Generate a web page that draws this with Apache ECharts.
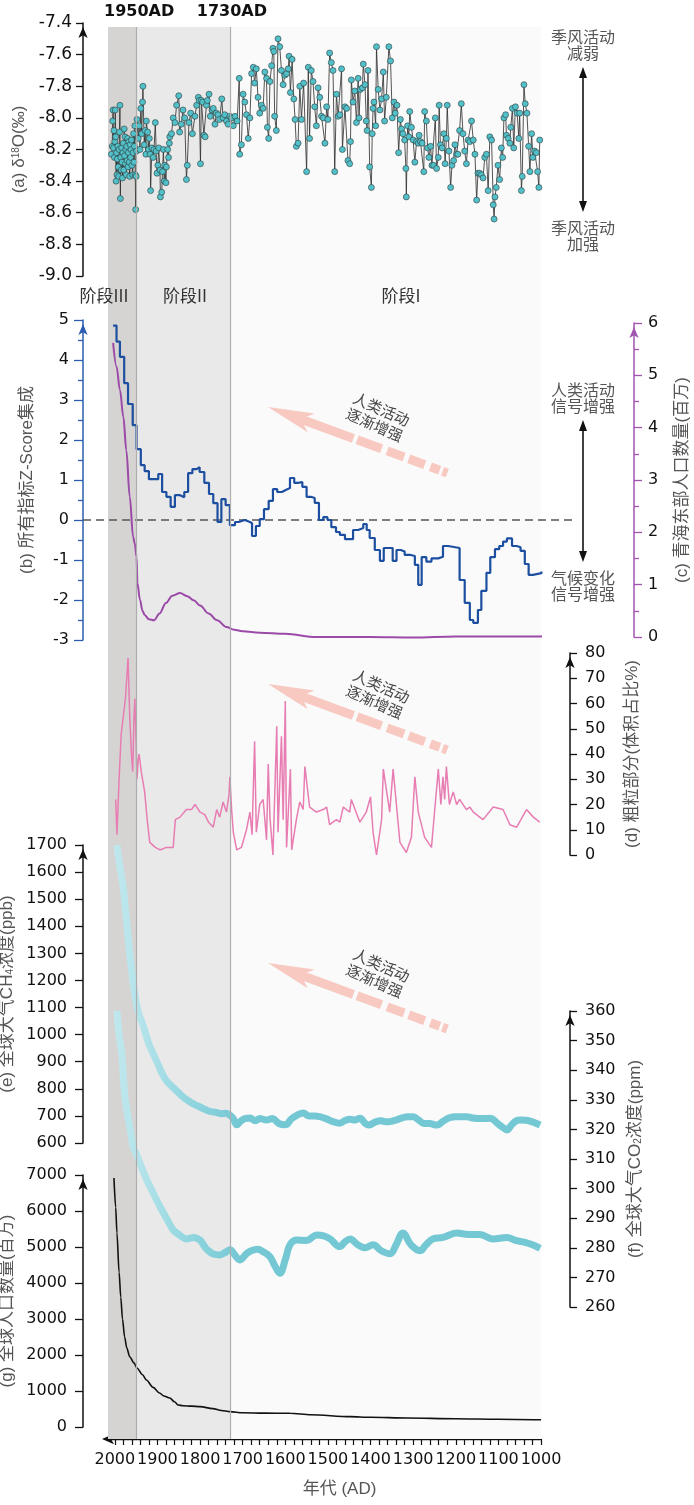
<!DOCTYPE html>
<html><head><meta charset="utf-8">
<script src="https://cdn.jsdelivr.net/npm/echarts@6/dist/echarts.min.js"></script>
<style>html,body{margin:0;padding:0;background:#fff}#c{width:694px;height:1505px}</style>
</head><body><div id="c"></div>
<script>
// ---------------- DATA ----------------
const stageBounds = [2016, 1950, 1730, 1000];
const stageNames = ['阶段III', '阶段II', '阶段I'];
const boundaryLabels = ['1950AD', '1730AD'];
const xLabelYears = [2000, 1900, 1800, 1700, 1600, 1500, 1400, 1300, 1200, 1100, 1000];

// (a) δ18O (‰)
const d18oStage3 = [[2008,-8.23],[2006,-8.18],[2005,-8.02],[2004,-7.95],[2003,-8.19],[2002,-8.08],[2001,-8.25],[2000,-8.15],[1999,-7.95],[1998,-8.12],[1997,-8.40],[1996,-8.22],[1995,-8.36],[1994,-8.26],[1993,-8.18],[1992,-8.31],[1991,-8.37],[1990,-8.20],[1989,-8.09],[1988,-7.92],[1987,-8.51],[1986,-8.25],[1985,-8.33],[1984,-8.19],[1983,-8.28],[1982,-8.38],[1981,-8.22],[1980,-8.16],[1979,-8.33],[1978,-8.07],[1977,-8.24],[1976,-8.12],[1975,-8.29],[1974,-8.20],[1973,-8.36],[1972,-8.18],[1971,-8.27],[1970,-8.13],[1969,-8.31],[1968,-8.22],[1967,-8.15],[1966,-8.28],[1965,-8.37],[1964,-8.17],[1963,-8.25],[1962,-8.20],[1961,-8.14],[1960,-8.30],[1958,-8.36],[1957,-8.22],[1956,-8.10],[1955,-8.28],[1954,-8.18],[1953,-8.05],[1952,-8.36],[1951,-8.58],[1950,-8.37],[1949,-8.21],[1948,-8.01]];
const d18oStage2 = [[1945,-8.13],[1943,-8.05],[1941,-8.20],[1939,-7.94],[1937,-8.10],[1935,-7.90],[1934,-7.80],[1931,-8.17],[1929,-8.08],[1927,-8.23],[1926,-8.02],[1923,-8.09],[1921,-8.20],[1919,-8.13],[1917,-8.23],[1916,-8.46],[1913,-8.19],[1910,-8.25],[1908,-8.20],[1905,-8.03],[1903,-8.21],[1901,-8.35],[1899,-8.30],[1897,-8.19],[1894,-8.33],[1893,-8.50],[1890,-8.47],[1888,-8.34],[1886,-8.20],[1884,-8.40],[1883,-8.30],[1880,-8.41],[1879,-8.31],[1876,-8.20],[1874,-8.25],[1872,-8.16],[1871,-8.12],[1867,-8.10],[1863,-8.00],[1859,-8.03],[1855,-7.92],[1850,-7.86],[1848,-8.09],[1844,-8.04],[1840,-7.95],[1836,-8.00],[1832,-8.39],[1830,-8.30],[1826,-8.03],[1822,-7.97],[1818,-8.10],[1812,-7.99],[1808,-7.92],[1804,-7.87],[1802,-7.89],[1799,-8.29],[1797,-7.89],[1794,-7.90],[1791,-8.11],[1788,-8.12],[1785,-7.92],[1783,-7.89],[1779,-7.85],[1776,-7.99],[1772,-7.95],[1769,-7.94],[1765,-8.04],[1762,-7.97],[1758,-7.98],[1754,-8.01],[1749,-7.88],[1746,-8.00],[1742,-7.98],[1738,-8.02],[1734,-8.04],[1730,-7.99],[1726,-8.00]];
const d18oStage1 = [[1722,-8.05],[1718,-7.99],[1713,-8.02],[1708,-7.75],[1707,-8.23],[1703,-8.17],[1699,-7.85],[1695,-7.90],[1691,-7.98],[1687,-8.13],[1683,-8.00],[1679,-7.72],[1675,-7.68],[1672,-7.78],[1668,-7.69],[1664,-7.87],[1660,-7.97],[1656,-7.92],[1652,-7.94],[1648,-7.71],[1644,-7.75],[1642,-8.06],[1639,-8.13],[1636,-7.77],[1632,-7.67],[1629,-7.56],[1627,-7.58],[1625,-7.99],[1621,-8.08],[1617,-7.50],[1613,-7.55],[1609,-7.70],[1605,-7.79],[1601,-7.73],[1597,-7.72],[1593,-7.69],[1591,-7.61],[1588,-7.84],[1584,-7.63],[1580,-7.88],[1577,-8.01],[1574,-8.18],[1570,-8.16],[1566,-7.80],[1562,-8.01],[1557,-7.78],[1550,-8.34],[1546,-7.68],[1543,-8.13],[1539,-7.70],[1535,-7.77],[1531,-7.93],[1527,-8.05],[1523,-7.81],[1519,-7.87],[1515,-7.99],[1511,-8.00],[1507,-8.16],[1503,-7.93],[1500,-8.01],[1496,-7.59],[1492,-7.65],[1488,-7.70],[1484,-8.34],[1480,-7.85],[1476,-7.99],
[1472,-7.98],[1468,-7.69],[1466,-8.20],[1460,-7.93],[1456,-7.94],[1453,-8.27],[1449,-8.29],[1447,-8.15],[1445,-7.76],[1441,-7.90],[1437,-7.83],[1433,-8.03],[1429,-7.75],[1427,-8.00],[1424,-7.82],[1419,-7.81],[1417,-7.66],[1413,-7.79],[1410,-8.02],[1408,-8.08],[1406,-7.70],[1402,-8.31],[1398,-8.44],[1396,-8.10],[1394,-7.94],[1392,-7.90],[1388,-8.05],[1386,-7.55],[1382,-7.82],[1378,-7.95],[1374,-7.88],[1370,-7.71],[1367,-8.02],[1363,-7.87],[1357,-7.55],[1353,-7.64],[1349,-8.00],[1345,-7.90],[1342,-7.97],[1338,-7.92],[1334,-8.22],[1330,-8.01],[1327,-8.07],[1324,-8.10],[1320,-8.14],[1317,-8.32],[1316,-8.50],[1313,-8.05],[1310,-8.12],[1308,-7.96],[1304,-8.06],[1300,-8.14],[1296,-8.28],[1292,-8.15],[1288,-8.16],[1286,-8.11],[1283,-8.15],[1279,-8.16],[1275,-8.34],[1273,-7.96],[1269,-8.02],[1266,-8.19],[1263,-8.25],[1259,-8.18],[1256,-8.30],[1252,-8.30],[1248,-8.00],[1245,-8.32],[1241,-8.25],[1239,-7.92],[1236,-8.17],[1232,-8.19],[1228,-8.10],[1225,-8.29],[1222,-8.13],[1220,-7.92],[1216,-8.21],[1212,-8.44],[1209,-8.30],[1205,-8.27],[1202,-8.17],[1198,-8.23],[1195,-8.23],[1191,-8.08],[1187,-7.91],[1183,-8.10],[1179,-8.21],[1175,-8.29],[1171,-8.14],[1167,-8.15],[1163,-8.02],[1159,-8.14],[1155,-8.23],[1151,-8.52],[1148,-8.35],[1144,-8.35],[1140,-8.36],[1136,-8.38],[1132,-8.25],[1128,-8.23],[1124,-8.46],[1120,-8.12],[1116,-8.14],[1112,-8.55],[1110,-8.64],[1108,-8.50],[1105,-8.44],[1101,-8.30],[1097,-8.39],[1093,-8.19],[1090,-8.25],[1087,-8.00],[1083,-7.98],[1081,-8.11],[1077,-8.13],[1073,-8.16],[1071,-8.06],[1067,-7.94],[1064,-8.19],[1060,-7.93],[1056,-7.97],[1052,-8.13],[1050,-7.97],[1046,-8.46],[1044,-8.37],[1040,-7.79],[1037,-7.91],[1033,-7.97],[1029,-8.18],[1026,-8.34],[1022,-8.10],[1019,-8.25],[1015,-8.21],[1011,-8.22],[1008,-8.34],[1005,-8.44],[1003,-8.14]];

// (b) Z-score ensemble (step: value holds from this year to the next listed year)
const zscore = [[2004,4.86],[1996,4.46],[1988,4.08],[1978,3.42],[1969,2.90],[1958,2.37],[1949,1.77],[1939,1.37],[1930,1.22],[1920,1.02],[1898,1.15],[1889,0.70],[1879,0.58],[1869,0.33],[1859,0.62],[1847,0.57],[1837,0.70],[1828,1.17],[1818,1.27],[1808,1.32],[1801,1.20],[1790,0.93],[1779,0.65],[1769,0.42],[1759,-0.05],[1750,0.52],[1740,0.37],[1730,-0.13],[1718,-0.05],[1709,0.00],[1695,-0.05],[1683,-0.08],[1678,-0.40],[1669,-0.15],[1660,0.02],[1650,0.27],[1639,0.48],[1629,0.77],[1619,0.70],[1608,0.75],[1599,0.80],[1589,1.05],[1579,0.93],[1570,0.95],[1560,0.83],[1550,0.58],[1540,0.55],[1531,0.43],[1521,0.00],[1511,0.07],[1501,0.00],[1492,-0.18],[1481,-0.30],[1472,-0.37],[1460,-0.48],[1441,-0.25],[1429,-0.20],[1417,-0.10],[1409,-0.25],[1402,-0.45],[1390,-0.75],[1378,-1.02],[1369,-0.70],[1348,-1.02],[1339,-0.75],[1329,-0.79],[1320,-0.87],[1308,-0.90],[1296,-1.12],[1288,-1.62],[1280,-0.93],[1269,-1.04],[1257,-0.96],[1241,-0.92],[1230,-0.65],[1218,-0.70],[1191,-1.50],[1179,-2.07],[1167,-2.50],[1159,-2.57],[1148,-2.25],[1140,-1.77],[1128,-1.32],[1119,-0.93],[1108,-0.73],[1098,-0.65],[1089,-0.54],[1080,-0.46],[1068,-0.65],[1057,-0.68],[1048,-0.77],[1038,-1.10],[1029,-1.37],[1019,-1.33],[999,-1.29]];

// (c) population of eastern Qinghai (million)
const qhPop = [[2004,5.62],[1996,5.17],[1988,4.72],[1980,4.21],[1973,3.57],[1965,2.68],[1957,1.91],[1953,1.78],[1949,1.53],[1947,1.03],[1941,0.71],[1935,0.50],[1930,0.42],[1920,0.34],[1908,0.32],[1895,0.45],[1880,0.65],[1865,0.79],[1847,0.84],[1830,0.78],[1815,0.70],[1800,0.60],[1780,0.45],[1760,0.32],[1738,0.19],[1720,0.14],[1700,0.11],[1660,0.08],[1600,0.06],[1527,0.00],[1400,0.00],[1300,-0.01],[1200,0.01],[1100,0.01],[1000,0.01],[966,0.01]];

// (d) coarse fraction (vol %)
const coarse = [[1998,22],[1995,8],[1990,30],[1985,48],[1980,55],[1975,62],[1969,78],[1965,55],[1961,40],[1958,33],[1955,55],[1953,62],[1950,45],[1948,30],[1945,38],[1943,40],[1938,33],[1930,25],[1924,14],[1918,5],[1905,3],[1894,2],[1879,3],[1863,3],[1858,14],[1847,15],[1832,18],[1820,18],[1812,20],[1800,17],[1789,16],[1780,13],[1769,11],[1761,18],[1754,15],[1746,21],[1738,17],[1732,24],[1730,31],[1726,18],[1722,9],[1714,2],[1703,3],[1691,10],[1683,17],[1678,8],[1672,45],[1668,9],[1660,20],[1652,22],[1644,6],[1640,36],[1636,15],[1629,0],[1620,51],[1617,9],[1609,47],[1605,14],[1600,61],[1597,3],[1588,34],[1585,2],[1574,14],[1566,21],[1558,18],[1554,35],[1543,19],[1527,17],[1511,18],[1503,19],[1496,12],[1480,14],[1472,13],[1464,19],[1449,17],[1445,22],[1425,13],[1410,17],[1400,23],[1394,9],[1386,0],[1374,14],[1370,34],[1355,17],[1347,34],[1331,5],[1316,1],[1304,7],[1296,31],[1288,17],[1273,7],[1257,3],[1241,34],[1235,20],[1230,31],[1226,22],[1222,35],[1215,20],[1206,25],[1198,20],[1191,22],[1175,18],[1167,19],[1159,17],[1136,14],[1112,19],[1089,18],[1073,12],[1057,11],[1034,18],[1018,15],[1003,13]];

// (e) global CH4 (ppb)
const ch4 = [[1995,1700],[1990,1640],[1985,1590],[1980,1540],[1975,1460],[1970,1380],[1965,1300],[1960,1230],[1955,1170],[1950,1120],[1945,1085],[1940,1060],[1935,1040],[1930,1015],[1925,990],[1920,965],[1910,930],[1900,895],[1890,860],[1880,832],[1870,815],[1860,800],[1850,785],[1840,770],[1830,758],[1820,748],[1810,740],[1800,733],[1790,725],[1780,718],[1770,715],[1760,712],[1750,708],[1740,710],[1730,703],[1722,690],[1714,667],[1705,680],[1695,690],[1683,692],[1670,682],[1660,690],[1644,685],[1630,690],[1615,672],[1600,667],[1585,690],[1570,705],[1558,711],[1545,700],[1530,700],[1519,697],[1505,690],[1490,680],[1472,673],[1460,683],[1448,688],[1437,685],[1425,691],[1412,672],[1405,666],[1388,678],[1375,682],[1365,678],[1354,679],[1340,685],[1326,693],[1313,697],[1300,697],[1287,685],[1275,672],[1262,672],[1244,666],[1230,680],[1215,693],[1200,697],[1186,697],[1174,697],[1160,692],[1147,690],[1133,690],[1120,691],[1100,670],[1090,658],[1080,648],[1070,665],[1058,682],[1049,685],[1035,684],[1020,678],[1002,666]];

// (f) global CO2 (ppm)
const co2 = [[1995,360],[1990,352],[1984,346],[1977,332],[1970,325],[1965,321],[1957,314],[1950,312],[1942,309],[1934,306],[1922,302],[1910,298.5],[1898,295],[1887,292],[1875,289],[1863,286],[1848,284.3],[1832,283],[1815,283.5],[1800,282.6],[1792,281],[1785,279.6],[1769,277.9],[1754,277.6],[1740,278.5],[1730,279.3],[1718,277.5],[1707,275.9],[1691,278],[1680,279],[1665,279.5],[1652,278.7],[1636,277],[1625,274],[1613,271.4],[1600,276],[1589,281],[1574,282.6],[1550,282.5],[1526,284.3],[1510,284],[1495,283],[1472,280.4],[1460,282],[1448,283],[1430,281],[1413,280],[1394,281],[1375,279],[1354,278],[1340,281],[1324,285],[1305,281],[1284,279],[1270,281],[1254,283],[1230,283.5],[1198,285],[1170,284.5],[1143,284.5],[1113,283],[1080,283.5],[1060,282.5],[1042,282],[1020,281],[1002,279.8]];

// (g) global population (million)
const worldPop = [[2002,6917],[1998,6100],[1995,5390],[1990,4300],[1986,3600],[1982,3000],[1977,2500],[1972,2200],[1965,1950],[1955,1780],[1948,1640],[1935,1450],[1926,1306],[1910,1100],[1895,944],[1885,860],[1871,806],[1860,700],[1851,611],[1840,590],[1820,580],[1800,565],[1770,510],[1750,460],[1730,426],[1700,395],[1650,385],[1589,380],[1540,340],[1448,287],[1400,270],[1314,250],[1200,230],[1100,215],[1000,200]];

// ---------------- CHART ----------------
const chart = echarts.init(document.getElementById('c'), null, {width: 694, height: 1505});
const L = 108, R = 153;
const NUM_FONT = '"DejaVu Sans", sans-serif';
const TXT_FONT = '"Liberation Sans", "Noto Sans CJK SC", sans-serif';
const CJK_FONT = '"Noto Sans CJK SC", sans-serif';
const BLUE = '#2a5cb0', PURPLE = '#a254b0', PINK = '#f8c9c0';

const gridTops = [[27, 1412], [23, 253], [320, 320], [323, 314], [653, 202], [845, 298], [1011, 296], [1175, 252]];
const grids = gridTops.map(([t, h]) => ({left: L, right: R, top: t, height: h, containLabel: false, outerBoundsMode: 'none'}));

const minorYears = [];
for (let y = stageBounds[3]; y <= 2000; y += 20) minorYears.push(y);

const xAxes = grids.map((g, i) => {
  if (i > 0) return {type: 'value', gridIndex: i, min: 1000, max: 2016, inverse: true, show: false};
  return {
    type: 'value', gridIndex: 0, min: 1000, max: 2016, inverse: true, position: 'bottom',
    name: '年代 (AD)', nameLocation: 'middle', nameGap: 42,
    nameTextStyle: {fontFamily: TXT_FONT, fontSize: 17, color: '#555', padding: [0, 0, 0, 30]},
    axisLine: {show: true, onZero: false, symbol: ['arrow', 'none'], symbolSize: [8, 12], symbolOffset: [-6, 0],
      lineStyle: {color: '#111', width: 1.4}},
    axisTick: {show: true, length: 6, customValues: minorYears, lineStyle: {color: '#111', width: 1.2}},
    minorTick: {show: false},
    axisLabel: {show: true, customValues: xLabelYears, fontFamily: NUM_FONT, fontSize: 16, color: '#111', margin: 13,
      showMinLabel: true, showMaxLabel: true, hideOverlap: false, formatter: v => String(v)},
    splitLine: {show: false}
  };
});

function yAx(o) {
  const color = o.color || '#111';
  return {
    type: 'value', gridIndex: o.grid, min: o.min, max: o.max, interval: o.interval,
    position: o.pos, offset: o.offset,
    name: o.name, nameLocation: 'middle', nameGap: o.gap, nameRotate: 90,
    nameTextStyle: {fontFamily: TXT_FONT, fontSize: 17, color: '#555', rich: o.rich || {}},
    axisLine: {show: true, onZero: false, symbol: ['none', 'arrow'], symbolSize: [7, 11], symbolOffset: [0, -4],
      lineStyle: {color, width: 1.5}},
    axisTick: {show: true, length: o.tick || 7, lineStyle: {color, width: 1.3}},
    minorTick: o.minor ? {show: true, splitNumber: 2, length: 5, lineStyle: {color, width: 1.3}} : {show: false},
    axisLabel: {show: true, fontFamily: NUM_FONT, fontSize: o.fs || 16, color: '#111', margin: o.margin || 12,
      formatter: o.fmt || (v => String(v)), showMinLabel: true, showMaxLabel: true},
    splitLine: {show: false}, minorSplitLine: {show: false}
  };
}

const yAxes = [
  {type: 'value', gridIndex: 0, min: 0, max: 1, show: false},
  yAx({grid: 1, min: -9, max: -7.4, interval: 0.2, pos: 'left', offset: 25, gap: 55, fs: 17, margin: 11, tick: 7,
    fmt: v => v.toFixed(1), name: '(a) δ{sup|18}O(‰)',
    rich: {sup: {fontSize: 10, verticalAlign: 'top', fontFamily: TXT_FONT, color: '#555'}}}),
  yAx({grid: 2, min: -3, max: 5, interval: 1, pos: 'left', offset: 25, gap: 47, color: BLUE, minor: true, tick: 9,
    margin: 14, name: '(b) 所有指标Z-Score集成'}),
  yAx({grid: 3, min: 0, max: 6, interval: 1, pos: 'right', offset: 93, gap: 40, color: PURPLE, minor: true, tick: 8,
    margin: 14, name: '(c) 青海东部人口数量(百万)'}),
  yAx({grid: 4, min: 0, max: 80, interval: 10, pos: 'right', offset: 29, gap: 54, tick: 7, margin: 15,
    name: '(d) 粗粒部分(体积占比%)'}),
  yAx({grid: 5, min: 600, max: 1700, interval: 100, pos: 'left', offset: 25, gap: 64, tick: 8, margin: 16,
    name: '(e) 全球大气CH{sub|4}浓度(ppb)',
    rich: {sub: {fontSize: 10, verticalAlign: 'bottom', fontFamily: TXT_FONT, color: '#555'}}}),
  yAx({grid: 6, min: 260, max: 360, interval: 10, pos: 'right', offset: 29, gap: 54, tick: 7, margin: 15,
    name: '(f) 全球大气CO{sub|2}浓度(ppm)',
    rich: {sub: {fontSize: 10, verticalAlign: 'bottom', fontFamily: TXT_FONT, color: '#555'}}}),
  yAx({grid: 7, min: 0, max: 7000, interval: 1000, pos: 'left', offset: 25, gap: 62, tick: 8, margin: 16,
    name: '(g) 全球人口数量(百万)'})
];

const tealGrad = {type: 'linear', x: 108, y: 0, x2: 240, y2: 0, global: true,
  colorStops: [{offset: 0, color: '#c2e8ee'}, {offset: 0.25, color: '#b4e3ea'}, {offset: 0.55, color: '#96d8e1'}, {offset: 1, color: '#74c8d4'}]};

const option = {
  animation: false,
  backgroundColor: '#ffffff',
  grid: grids,
  xAxis: xAxes,
  yAxis: yAxes,
  series: [
    {type: 'line', xAxisIndex: 0, yAxisIndex: 0, z: 0, data: [[1500, -5]], showSymbol: false, silent: true,
      lineStyle: {opacity: 0},
      markArea: {silent: true, data: [
        [{xAxis: stageBounds[0], itemStyle: {color: '#d6d4d3', opacity: 1}}, {xAxis: stageBounds[1]}],
        [{xAxis: stageBounds[1], itemStyle: {color: '#e9e9e9', opacity: 1}}, {xAxis: stageBounds[2]}],
        [{xAxis: stageBounds[2], itemStyle: {color: '#fafafa', opacity: 1}}, {xAxis: stageBounds[3]}]
      ]},
      markLine: {silent: true, symbol: 'none', label: {show: false},
        lineStyle: {color: '#adadad', type: 'solid', width: 1.2},
        data: [{xAxis: stageBounds[1]}, {xAxis: stageBounds[2]}]}
    },
    {name: 'd18O', type: 'line', xAxisIndex: 1, yAxisIndex: 1, z: 3,
      data: d18oStage3.concat(d18oStage2, d18oStage1),
      symbol: 'circle', symbolSize: 6, showAllSymbol: true,
      lineStyle: {color: '#2a2a2a', width: 0.8},
      itemStyle: {color: '#52c0c8', borderColor: '#2b3b3d', borderWidth: 0.6}},
    {name: 'z', type: 'line', xAxisIndex: 2, yAxisIndex: 2, z: 4, step: 'end', data: zscore,
      showSymbol: false, lineStyle: {color: '#1d4fa0', width: 2.2}},
    {name: 'qh', type: 'line', xAxisIndex: 3, yAxisIndex: 3, z: 3, data: qhPop, clip: false,
      smooth: 0.35, smoothMonotone: 'x', showSymbol: false, lineStyle: {color: '#9b4aa8', width: 2}},
    {name: 'coarse', type: 'line', xAxisIndex: 4, yAxisIndex: 4, z: 3, data: coarse,
      showSymbol: false, lineStyle: {color: '#e77db2', width: 1.5}},
    {name: 'ch4', type: 'line', xAxisIndex: 5, yAxisIndex: 5, z: 3, data: ch4, smooth: 0.4,
      showSymbol: false, lineStyle: {color: tealGrad, width: 7}},
    {name: 'co2', type: 'line', xAxisIndex: 6, yAxisIndex: 6, z: 3, data: co2, smooth: 0.4,
      showSymbol: false, lineStyle: {color: tealGrad, width: 7}},
    {name: 'pop', type: 'line', xAxisIndex: 7, yAxisIndex: 7, z: 3, data: worldPop, smooth: 0.3,
      smoothMonotone: 'x', showSymbol: false, lineStyle: {color: '#111', width: 1.6}}
  ]
};
chart.setOption(option);

// ---------------- ANNOTATIONS ----------------
const px = yr => chart.convertToPixel({xAxisIndex: 0}, yr);
const zeroY = chart.convertToPixel({yAxisIndex: 2}, 0);
const g = [];

function txt(x, y, text, extra) {
  return {type: 'text', x, y, z: 10, style: Object.assign({
    text, fill: '#555', fontSize: 16, fontFamily: CJK_FONT, align: 'center', verticalAlign: 'middle',
    textAlign: 'center', textVerticalAlign: 'middle', lineHeight: 16}, extra || {})};
}
function vArrow(x, y1, y2) {
  return [
    {type: 'line', z: 10, shape: {x1: x, y1: y1 + 8, x2: x, y2: y2 - 8}, style: {stroke: '#111', lineWidth: 1.6}},
    {type: 'polygon', z: 10, shape: {points: [[x, y1], [x - 4, y1 + 11], [x + 4, y1 + 11]]}, style: {fill: '#111'}},
    {type: 'polygon', z: 10, shape: {points: [[x, y2], [x - 4, y2 - 11], [x + 4, y2 - 11]]}, style: {fill: '#111'}}
  ];
}
function pinkArrow(tx, ty) {
  const th = 20.2 * Math.PI / 180, c = Math.cos(th), s = Math.sin(th);
  const T = ([x, y]) => [tx + x * c - y * s, ty + x * s + y * c];
  const els = [];
  const poly = pts => els.push({type: 'polygon', z: 1, shape: {points: pts.map(T)}, style: {fill: PINK}});
  poly([[0, 0], [46, -10], [40, -4.5], [40, 4.5], [46, 10]]);
  poly([[39, -4.5], [91, -4.5], [91, 4.5], [39, 4.5]]);
  [[95, 121], [127, 145], [150, 167], [173, 183], [186, 191]].forEach(([a, b]) =>
    poly([[a, -4.5], [b, -4.5], [b, 4.5], [a, 4.5]]));
  els.push({type: 'text', x: tx + 110, y: ty + 10, z: 10, rotation: -24 * Math.PI / 180,
    style: {text: '人类活动\n逐渐增强', fill: '#444', fontSize: 15, fontFamily: CJK_FONT, lineHeight: 17,
      align: 'center', verticalAlign: 'middle', textAlign: 'center', textVerticalAlign: 'middle'}});
  return els;
}

g.push(txt(px(stageBounds[1]) + 3, 12, boundaryLabels[0], {fill: '#111', fontWeight: 'bold', fontFamily: NUM_FONT}));
g.push(txt(px(stageBounds[2]) + 2, 12, boundaryLabels[1], {fill: '#111', fontWeight: 'bold', fontFamily: NUM_FONT}));
g.push(txt(104, 296, stageNames[0], {fill: '#333', fontSize: 17}));
g.push(txt(185, 296, stageNames[1], {fill: '#333', fontSize: 17}));
g.push(txt(401, 296, stageNames[2], {fill: '#333', fontSize: 17}));
g.push(txt(583, 45, '季风活动\n减弱'));
g.push(...vArrow(583, 67, 212));
g.push(txt(583, 235.5, '季风活动\n加强'));
g.push(txt(583, 397.5, '人类活动\n信号增强'));
g.push(...vArrow(583, 420, 562));
g.push(txt(583, 585.5, '气候变化\n信号增强'));
g.push({type: 'line', z: 1, shape: {x1: 83, y1: zeroY, x2: 572, y2: zeroY},
  style: {stroke: '#555', lineWidth: 1.6, lineDash: [8, 5]}});
g.push(...pinkArrow(268, 407));
g.push(...pinkArrow(268, 684));
g.push(...pinkArrow(268, 963));

chart.setOption({graphic: {elements: g}});
</script>
</body></html>
